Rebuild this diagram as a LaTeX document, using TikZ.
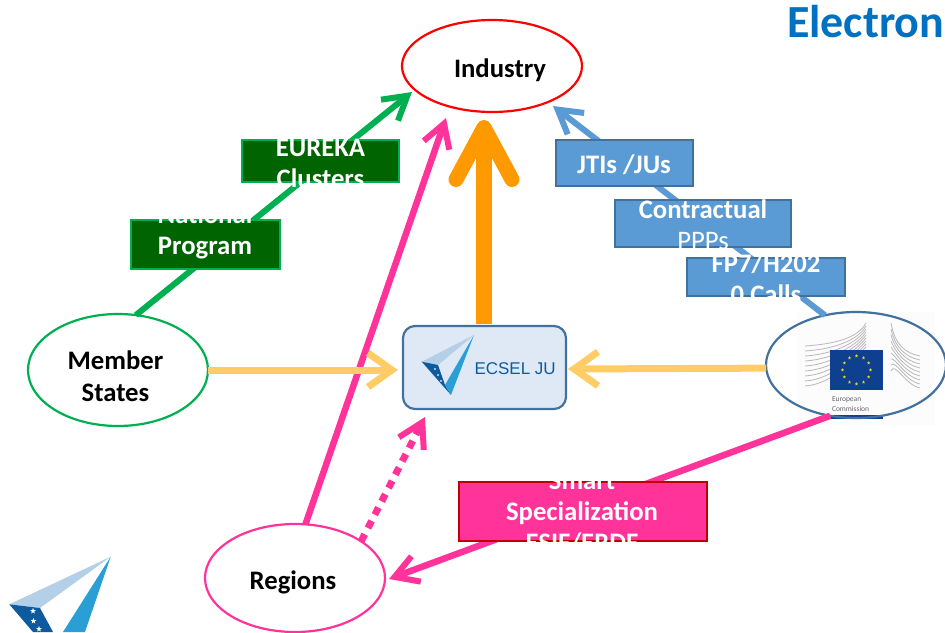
\documentclass[tikz,border=0pt]{standalone}
\usepackage{fontspec}
\setmainfont{Carlito}
\newfontfamily\arialf{Liberation Sans}
\usetikzlibrary{arrows.meta,shapes.geometric}
\definecolor{cgreen}{HTML}{00B050}
\definecolor{cdgreen}{HTML}{006400}
\definecolor{cblue}{HTML}{5B9BD5}
\definecolor{cbord}{HTML}{41719C}
\definecolor{cpink}{HTML}{FF3399}
\definecolor{cred}{HTML}{C00000}
\definecolor{cyel}{HTML}{FFCC66}
\definecolor{corange}{HTML}{FF9900}
\definecolor{ctitle}{HTML}{0070C0}
\definecolor{clight}{HTML}{B4CFE8}
\definecolor{cdark}{HTML}{0D5A9E}
\definecolor{cmid}{HTML}{2A9FD6}
\definecolor{cflag}{HTML}{0F3F8F}
\definecolor{cpale}{HTML}{DEE9F5}
\tikzset{
  x=1pt,y=-1pt,
  every node/.style={outer sep=0pt,inner sep=0pt},
  oval/.style={ellipse,minimum width=180pt,minimum height=#1,line width=2.2pt,fill=white},
  lab/.style={font=\fontsize{26.7}{26.7}\selectfont\bfseries,align=center,text=black},
  boxlab/.style={font=\fontsize{26.7}{31}\selectfont\bfseries,align=center,text=white},
  conn/.style={line width=#1,line cap=butt},
  sbox/.style={rectangle,line width=2.6pt},
  gbox/.style={sbox,draw=cgreen,fill=cdgreen},
  bbox/.style={sbox,draw=cbord,fill=cblue},
  pbox/.style={sbox,draw=cred,fill=cpink},
  smallstar/.style={star,star points=5,star point ratio=2.4,fill=white,minimum size=#1},
  smallhead/.style={-{Straight Barb[length=23pt,width=27pt,line width=6pt]}},
  yelhead/.style={-{Straight Barb[length=24pt,width=34pt,line width=7pt]}},
  bighead/.style={-{Straight Barb[length=52pt,width=56pt,line width=15pt,round]}},
}
\begin{document}
\begin{tikzpicture}
\useasboundingbox (0,0) rectangle (945,632);
% title
\node[anchor=base west,text=ctitle,font=\fontsize{46}{46}\selectfont\bfseries] (title) at (787,37) {Electron};

% European Commission picture
\fill[white!99!black] (797,312) rectangle (935,425);
\foreach \i in {0,...,8}{
  \draw[black!28,line width=.8pt] (805,346+\i*5) .. controls (835,344+\i*5) and (858,338+\i*2) .. (866,323+\i*3);
  \draw[black!28,line width=.8pt] (891,323+\i*6) .. controls (895,345+\i*2) and (905,353+\i*4) .. (920,356+\i*4);
}
\fill[cflag] (830,350) rectangle (883,390);
\foreach \a in {0,30,...,330}{
  \node[star,star points=5,star point ratio=2.4,fill=yellow!85!black,minimum size=3.6pt] (eu\a) at ({856.5+14*cos(\a)},{370+14*sin(\a)}) {};
}
\node[anchor=base west,text=black!60,font=\fontsize{7.5}{7.5}\selectfont] (ecl1) at (832,401) {European};
\node[anchor=base west,text=black!60,font=\fontsize{7.5}{7.5}\selectfont] (ecl2) at (832,411) {Commission};
\fill[cflag] (830,415) rectangle (883,419);

% ovals
\node[oval=92pt,draw=red] (ind) at (492,66) {};
\node[oval=112pt,draw=cgreen] (mem) at (118,370) {};
\node[oval=108pt,draw=cpink] (reg) at (295,578) {};
\node[ellipse,minimum width=180pt,minimum height=106pt,line width=2.2pt,draw=cbord] (ec) at (856,365) {};
\node[rectangle,rounded corners=12pt,minimum width=163pt,minimum height=83pt,line width=2.2pt,draw=cbord,fill=cpale] (ecsel) at (484.5,367.5) {};

% connector ends
\coordinate (tipG) at (412,92);
\coordinate (tipB) at (553,106);
\coordinate (tipP) at (446,118);
\coordinate (tipO) at (484,120);
\coordinate (tipY1) at (398,370);
\coordinate (tipY2) at (568,369);
\coordinate (tipD) at (425,417);
\coordinate (tipR) at (389,579);
\coordinate (srcO) at (484,324);

% connectors
\draw[conn=6pt,cgreen,smallhead] (mem.72.8) -- (tipG);
\draw[conn=6pt,cblue,smallhead] (ec.122.5) -- (tipB);
\draw[conn=6.5pt,cpink,smallhead] (reg.79.5) -- (tipP);
\draw[conn=6.5pt,cpink,smallhead] (ec.243) -- (tipR);
\draw[conn=7pt,cpink,dash pattern=on 8pt off 7pt,-{Straight Barb[length=24pt,width=28pt,line width=6pt]}] (reg.29) -- (tipD);
\draw[conn=7pt,cyel,yelhead] (mem.east) -- (tipY1);
\draw[conn=7pt,cyel,yelhead] (ec.182.5) -- (tipY2);
\draw[conn=16pt,corange,bighead] (srcO) -- (tipO);

% boxes
\node[gbox,minimum width=157pt,minimum height=42pt] (eureka) at (320.5,161) {};
\node[boxlab] (eurekaT) at (320.5,163) {EUREKA\\Clusters};
\node[gbox,minimum width=149pt,minimum height=49pt] (nat) at (205.5,244.5) {};
\node[boxlab] (natT) at (205,232) {National\\Program};
\node[bbox,minimum width=137pt,minimum height=46pt] (jti) at (624.5,163) {};
\node[boxlab] (jtiT) at (624,165) {JTIs /JUs};
\node[bbox,minimum width=176pt,minimum height=47pt] (ppp) at (703,223.5) {};
\node[boxlab] (pppT) at (703,225) {Contractual\\{\mdseries PPPs}};
\node[bbox,minimum width=158pt,minimum height=38pt] (fp) at (766,277) {};
\node[boxlab] (fpT) at (766,278.5) {FP7/H202\\0 Calls};
\node[pbox,minimum width=248pt,minimum height=59pt] (sm) at (583,511.5) {};
\node[boxlab] (smT) at (582,512.5) {Smart\\Specialization\\ESIF/ERDF};

% oval labels
\node[lab] (indT) at (500,70) {Industry};
\node[font=\fontsize{26.7}{32}\selectfont\bfseries,align=center] (memT) at (115.5,376) {Member\\States};
\node[lab] (regT) at (293,582) {Regions};

% ECSEL logo in the box
\fill[clight] (474,335) -- (421.7,361.7) -- (438,365) -- cycle;
\fill[cdark] (421.7,361.7) -- (438,365) -- (445,385) -- (451,395) -- cycle;
\fill[cmid] (474,335) -- (451,395) -- (445,385) -- cycle;
\node[smallstar=2.5pt] (s1) at (435,369) {};
\node[smallstar=2.5pt] (s2) at (438,375) {};
\node[smallstar=2.5pt] (s3) at (441,381) {};
\node[anchor=base west,text=cdark,font=\arialf\fontsize{17}{17}\selectfont] (ecselT) at (474.5,374) {ECSEL JU};

% large logo bottom left
\fill[clight] (110.7,556.7) -- (9.3,604.3) -- (40,608) -- cycle;
\fill[cdark] (9.3,604.3) -- (40,608) -- (53,632) -- (33,632) -- cycle;
\fill[cmid] (110.7,556.7) -- (63,632) -- (85,632) -- cycle;
\node[smallstar=6pt] (b1) at (33,611) {};
\node[smallstar=6pt] (b2) at (33.5,621) {};
\node[smallstar=6pt] (b3) at (39,629) {};
\end{tikzpicture}
\end{document}
